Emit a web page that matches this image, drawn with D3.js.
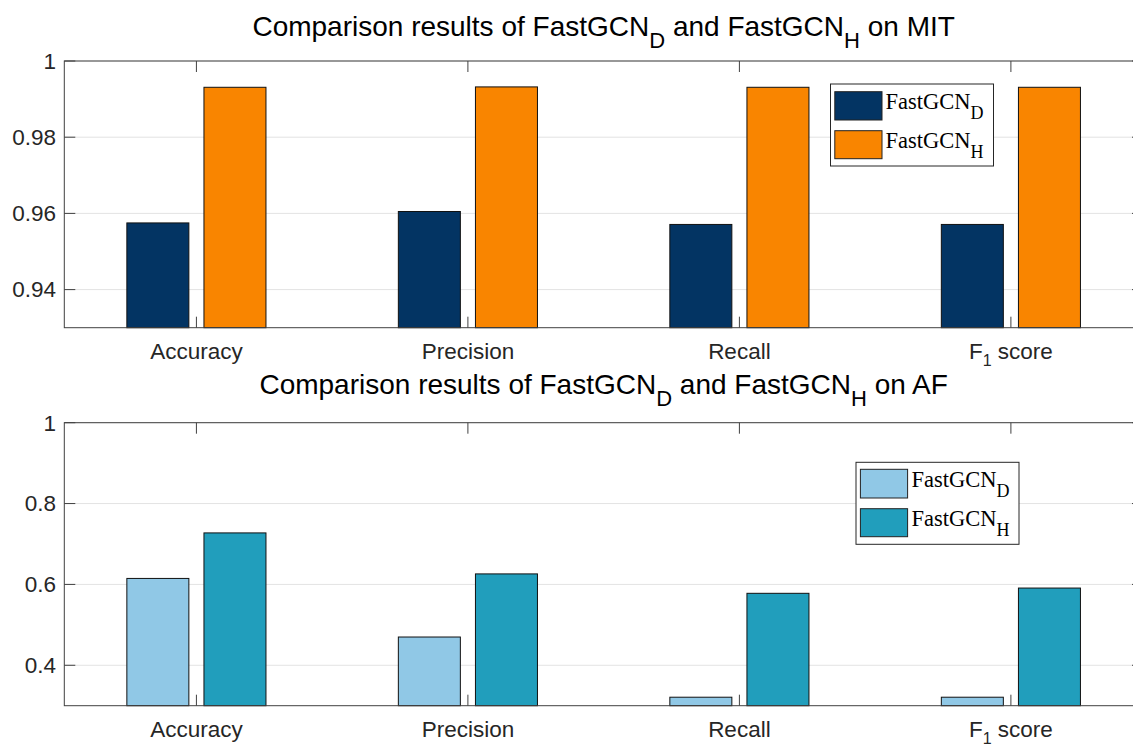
<!DOCTYPE html>
<html><head><meta charset="utf-8">
<script src="https://cdn.jsdelivr.net/npm/d3@7"></script>
<style>body{margin:0;background:#fff;overflow:hidden}</style>
</head><body>
<svg id="c" width="1133" height="748" xmlns="http://www.w3.org/2000/svg"></svg>
<script>
// ---- data ----
const categories = ["Accuracy", "Precision", "Recall", "F_1 score"];
const seriesNames = ["FastGCN_D", "FastGCN_H"];
const mitD = [0.9575, 0.9605, 0.9571, 0.9571];
const mitH = [0.9931, 0.9932, 0.9931, 0.9931];
const afD = [0.6148, 0.4699, 0.3210, 0.3210];
const afH = [0.7274, 0.6260, 0.5780, 0.5910];
const mitTicks = [0.94, 0.96, 0.98, 1];
const afTicks = [0.4, 0.6, 0.8, 1];
const mitTickLabels = ["0.94", "0.96", "0.98", "1"];
const afTickLabels = ["0.4", "0.6", "0.8", "1"];
const titles = ["Comparison results of FastGCN_D and FastGCN_H on MIT",
                "Comparison results of FastGCN_D and FastGCN_H on AF"];

// ---- style / layout ----
const svg = d3.select("#c");
const SANS = "Helvetica, 'Liberation Sans', Arial, sans-serif";
const SERIF = "'Liberation Serif', 'Times New Roman', Times, serif";
const axisColor = "#404040";
const gridColor = "#e3e3e3";

const panels = [
  {title: titles[0], D: mitD, H: mitH, ticks: mitTicks, tickLabels: mitTickLabels,
   domain: [0.93, 1], top: 61, bottom: 327.7, colors: ["#033463", "#f98500"],
   titleY: 36, labelY: 359,
   legend: {x: 830.5, y: 84, w: 163, h: 82, sw: [834.8, 882], rows: [[91.7, 120], [130.7, 158.7]], tx: 885.5}},
  {title: titles[1], D: afD, H: afH, ticks: afTicks, tickLabels: afTickLabels,
   domain: [0.3, 1], top: 422.7, bottom: 705.7, colors: ["#90c8e6", "#219ebc"],
   titleY: 394, labelY: 737,
   legend: {x: 856, y: 462.3, w: 163, h: 82, sw: [860.4, 907.6], rows: [[469.3, 498], [508.7, 536.7]], tx: 911.5}}
];

const left = 64.3, right = 1143;
const x = d3.scaleLinear().domain([0.5134, 4.4866]).range([left, right]);
const barW = 0.2284, barOff = 0.142;

// rich text with "_x" subscripts
function rich(textSel, str, subSize, subDy) {
  const parts = str.split(/(_.)/).filter(p => p.length);
  let cur = 0;
  parts.forEach(p => {
    const t = textSel.append("tspan");
    if (p[0] === "_") {
      t.text(p[1]).attr("font-size", subSize).attr("dy", subDy - cur);
      cur = subDy;
    } else {
      t.text(p).attr("dy", -cur);
      cur = 0;
    }
  });
}

panels.forEach(P => {
  const y = d3.scaleLinear().domain(P.domain).range([P.bottom, P.top]);
  const g = svg.append("g");

  // grid
  g.selectAll(".grid").data(P.ticks).join("line")
    .attr("x1", left).attr("x2", right)
    .attr("y1", d => y(d)).attr("y2", d => y(d))
    .attr("stroke", gridColor).attr("stroke-width", 1);

  // tick marks (inward) left/right
  g.selectAll(".yt").data(P.ticks).join("line")
    .attr("x1", left).attr("x2", left + 11)
    .attr("y1", d => y(d)).attr("y2", d => y(d))
    .attr("stroke", axisColor).attr("stroke-width", 1);
  g.selectAll(".yt2").data(P.ticks).join("line")
    .attr("x1", right).attr("x2", right - 11)
    .attr("y1", d => y(d)).attr("y2", d => y(d))
    .attr("stroke", axisColor).attr("stroke-width", 1);
  // x ticks top and bottom
  const cats = categories.map((c, i) => i + 1);
  g.selectAll(".xt").data(cats).join("line")
    .attr("x1", d => x(d)).attr("x2", d => x(d))
    .attr("y1", P.top).attr("y2", P.top + 11)
    .attr("stroke", axisColor).attr("stroke-width", 1);
  g.selectAll(".xb").data(cats).join("line")
    .attr("x1", d => x(d)).attr("x2", d => x(d))
    .attr("y1", P.bottom).attr("y2", P.bottom - 11)
    .attr("stroke", axisColor).attr("stroke-width", 1);

  // bars
  const series = [P.D, P.H];
  series.forEach((vals, s) => {
    const off = s === 0 ? -barOff : barOff;
    g.selectAll(".b" + s).data(vals).join("rect")
      .attr("x", (d, i) => x(i + 1 + off - barW / 2))
      .attr("width", x(1 + barW) - x(1))
      .attr("y", d => y(d))
      .attr("height", d => P.bottom - y(d))
      .attr("fill", P.colors[s])
      .attr("stroke", "#111").attr("stroke-width", 1);
  });

  // box (left, top, bottom; right is off-canvas)
  g.append("rect").attr("x", left).attr("y", P.top)
    .attr("width", right - left).attr("height", P.bottom - P.top)
    .attr("fill", "none").attr("stroke", axisColor).attr("stroke-width", 1);

  // y tick labels
  g.selectAll(".yl").data(P.ticks).join("text")
    .attr("x", 56).attr("y", d => y(d)).attr("dy", "0.35em")
    .attr("text-anchor", "end").attr("font-family", SANS).attr("font-size", 22.5)
    .attr("fill", "#262626")
    .text((d, i) => P.tickLabels[i]);

  // x category labels
  categories.forEach((c, i) => {
    const t = g.append("text").attr("x", x(i + 1)).attr("y", P.labelY)
      .attr("text-anchor", "middle").attr("font-family", SANS).attr("font-size", 22.5)
      .attr("fill", "#262626");
    rich(t, c, 16, 7);
  });

  // title
  const tt = g.append("text").attr("x", (left + right) / 2).attr("y", P.titleY)
    .attr("text-anchor", "middle").attr("font-family", SANS).attr("font-size", 28)
    .attr("fill", "#000");
  rich(tt, P.title, 22, 12);

  // legend
  const L = P.legend;
  g.append("rect").attr("x", L.x).attr("y", L.y).attr("width", L.w).attr("height", L.h)
    .attr("fill", "#fff").attr("stroke", "#262626").attr("stroke-width", 1);
  seriesNames.forEach((n, s) => {
    const r = L.rows[s];
    g.append("rect").attr("x", L.sw[0]).attr("y", r[0])
      .attr("width", L.sw[1] - L.sw[0]).attr("height", r[1] - r[0])
      .attr("fill", P.colors[s]).attr("stroke", "#222").attr("stroke-width", 1);
    const t = g.append("text").attr("x", L.tx).attr("y", (r[0] + r[1]) / 2 + 3)
      .attr("font-family", SERIF).attr("font-size", 22.5).attr("fill", "#000");
    rich(t, n, 18, 10);
  });
});
</script>
</body></html>
